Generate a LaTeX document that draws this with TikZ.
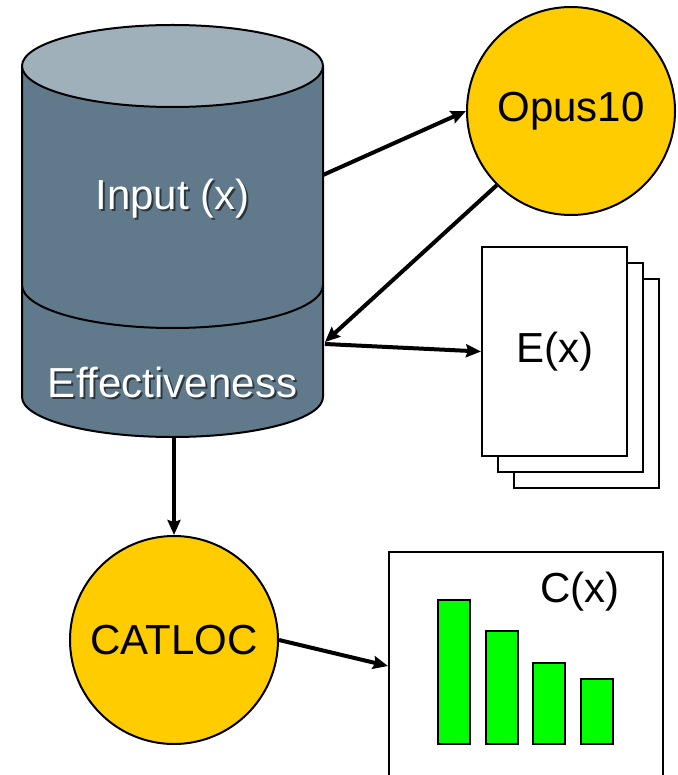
\documentclass[tikz,border=0pt]{standalone}
\usepackage{fontspec}
\setmainfont{Liberation Sans}
\usepackage{tikz}
\definecolor{cyltop}{RGB}{160,176,187}
\definecolor{cylbody}{RGB}{96,122,140}
\definecolor{procyellow}{RGB}{255,204,0}
\definecolor{bargreen}{RGB}{0,255,0}
\usetikzlibrary{arrows.meta, positioning}
\newcommand{\shadowtxt}[1]{\makebox[0pt][l]{\hspace{2pt}\raisebox{-2pt}{\color{black!55!cylbody}#1}}#1}

\begin{document}
\begin{tikzpicture}[x=1pt, y=-1pt,
    outline/.style={draw=black, line width=2},
    bigfont/.style={font=\fontsize{42}{50}\selectfont},
    proc/.style={circle, outline, fill=procyellow, minimum size=208pt, inner sep=0pt, bigfont},
    page/.style={rectangle, outline, fill=white, minimum width=145pt, minimum height=209pt, inner sep=0pt},
    cyltext/.style={text=white, bigfont},
    bar/.style={outline, fill=bargreen},
    arr/.style={draw=black, line width=4, -{Stealth[length=15pt, width=13pt, inset=2pt]}}]
     \useasboundingbox (0,0) rectangle (677,775);
     %database
     \draw[outline, fill=cylbody] (22,66) -- (22,397) arc[start angle=180, end angle=0, x radius=150.5, y radius=40] -- (323,66) -- cycle;
     \draw[outline] (22,285) arc[start angle=180, end angle=0, x radius=150.5, y radius=43];
     \draw[outline, fill=cyltop] (172.5,66) ellipse[x radius=150.5, y radius=41];
     \node[cyltext] (input) at (172.5,200) {\shadowtxt{Input (x)}};
     \node[cyltext] (eff) at (172.5,383) {\shadowtxt{Effectiveness}};
     \coordinate (dbout) at (323,175);
     \coordinate (dbin) at (325,342);
     \coordinate (dbright) at (325,344);
     \coordinate (dbbottom) at (174,437);
     %opus10 and E(x)
     \node[proc] (opus) at (571,111) {Opus10};
     \node[page] (page3) at (586.5,383.5) {};
     \node[page] (page2) at (570.5,367.5) {};
     \node[page, bigfont] (ex) at (554.5,351.5) {E(x)};
     %catloc and C(x)
     \node[proc] (catloc) at (174,640) {CATLOC};
     \node[rectangle, outline, fill=white, minimum width=274pt, minimum height=228pt, inner sep=0pt] (chart) at (526,666) {};
     \node[bigfont] (cx) at (580,592) {C(x)};
     \foreach \bx/\by in {438/600, 486/631, 533/663, 581/679}
        \draw[bar] (\bx,\by) rectangle (\bx+32,744);
     %arrows
     \draw[arr] (dbout) -- (opus.west);
     \draw[arr] (opus.225) -- (dbin);
     \draw[arr] (dbright) -- (ex.west);
     \draw[arr] (dbbottom) -- (catloc.north);
     \draw[arr] (catloc.east) -- (chart.west);
\end{tikzpicture}
\end{document}
